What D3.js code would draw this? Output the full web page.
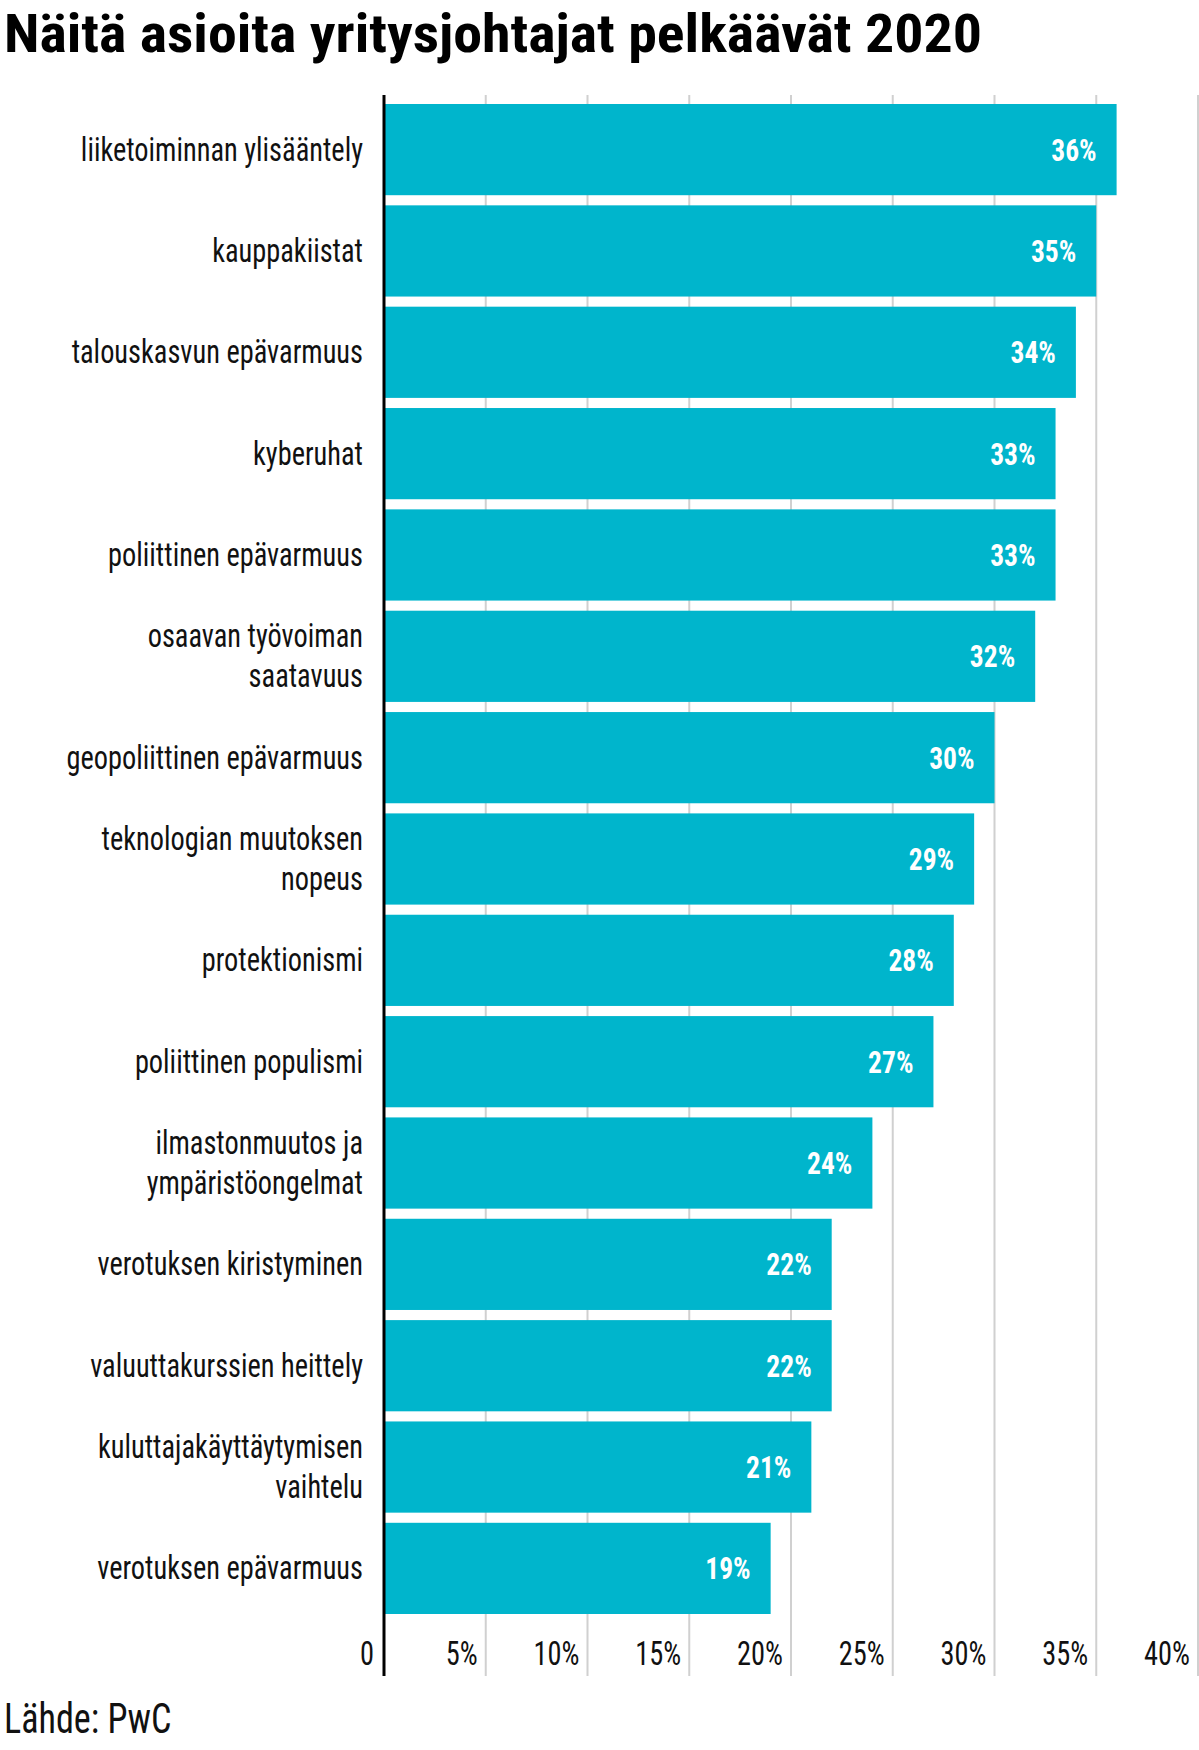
<!DOCTYPE html>
<html><head><meta charset="utf-8">
<script src="https://cdn.jsdelivr.net/npm/d3@7"></script>
<style>body{margin:0;background:#fff}</style>
</head><body><svg id="c" width="1199" height="1750"></svg>
<script>
const categories = [
    ["liiketoiminnan ylisääntely"], ["kauppakiistat"], ["talouskasvun epävarmuus"], ["kyberuhat"],
    ["poliittinen epävarmuus"], ["osaavan työvoiman", "saatavuus"], ["geopoliittinen epävarmuus"],
    ["teknologian muutoksen", "nopeus"], ["protektionismi"], ["poliittinen populismi"],
    ["ilmastonmuutos ja", "ympäristöongelmat"], ["verotuksen kiristyminen"], ["valuuttakurssien heittely"],
    ["kuluttajakäyttäytymisen", "vaihtelu"], ["verotuksen epävarmuus"]
]
const values = [36, 35, 34, 33, 33, 32, 30, 29, 28, 27, 24, 22, 22, 21, 19]
const ticks = [0, 5, 10, 15, 20, 25, 30, 35, 40]

const svg = d3.select("#c"),
    font = "'Roboto Condensed', Roboto, sans-serif",
    cond = 0.86

let x = d3.scaleLinear().domain([0, 40]).range([384, 1198]),
    y = d3.scaleBand().domain(d3.range(values.length)).range([104, 1614]).paddingInner(0.1)

svg.append("text").attr("x", 4).attr("y", 52)
    .attr("font-family", font).attr("font-weight", 700).attr("font-size", 54)
    .attr("textLength", 978).attr("lengthAdjust", "spacingAndGlyphs")
    .text("Näitä asioita yritysjohtajat pelkäävät 2020")

// gridlines
svg.append("g").selectAll("line").data(ticks.slice(1)).join("line")
    .attr("x1", d => x(d)).attr("x2", d => x(d))
    .attr("y1", 95).attr("y2", 1676)
    .attr("stroke", "#d0d0d0").attr("stroke-width", 2)

svg.append("g").selectAll("rect").data(values).join("rect")
    .attr("x", x(0)).attr("y", (d, i) => y(i))
    .attr("width", d => x(d) - x(0)).attr("height", y.bandwidth())
    .attr("fill", "#00b5cc")

svg.append("line").attr("x1", x(0)).attr("x2", x(0)).attr("y1", 95).attr("y2", 1676)
    .attr("stroke", "#000").attr("stroke-width", 3)

// value labels
svg.append("g").selectAll("text").data(values).join("text")
    .attr("transform", (d, i) => `translate(${x(d) - 20},${y(i) + y.bandwidth() / 2 + 11}) scale(${cond},1)`)
    .attr("text-anchor", "end").attr("fill", "#fff")
    .attr("font-family", font).attr("font-weight", 700).attr("font-size", 32)
    .text(d => d + "%")

// category labels
svg.append("g").selectAll("text").data(categories).join("text")
    .attr("transform", (d, i) => `translate(363,${y(i) + y.bandwidth() / 2 + 11 - (d.length - 1) * 20}) scale(${cond},1)`)
    .attr("text-anchor", "end").attr("fill", "#111")
    .attr("font-family", font).attr("font-size", 33)
    .selectAll("tspan").data(d => d).join("tspan")
    .attr("x", 0).attr("dy", (d, i) => i ? 40 : 0).text(d => d)

// tick labels
svg.append("g").selectAll("text").data(ticks).join("text")
    .attr("transform", d => `translate(${x(d) - (d === 0 ? 10 : 8)},1665) scale(${cond},1)`)
    .attr("text-anchor", "end").attr("fill", "#111")
    .attr("font-family", font).attr("font-size", 33)
    .text(d => d === 0 ? "0" : d + "%")

svg.append("text").attr("transform", `translate(4,1733) scale(${cond},1)`)
    .attr("font-family", font).attr("font-size", 42).attr("fill", "#111")
    .text("Lähde: PwC")
</script></body></html>
